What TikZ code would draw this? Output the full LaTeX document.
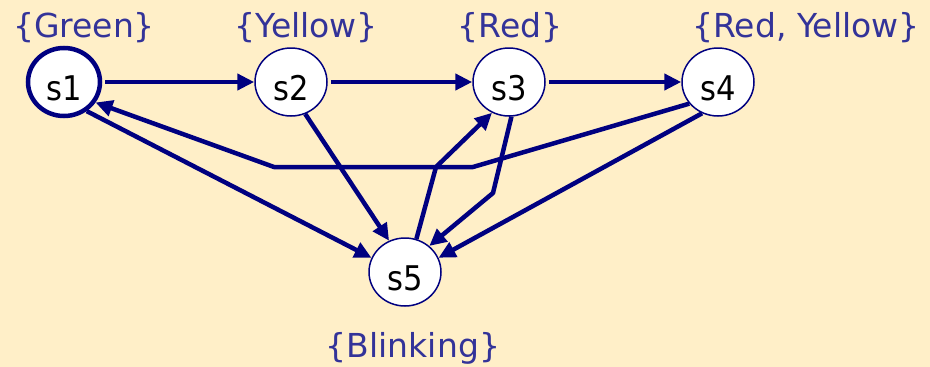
\documentclass[tikz,border=0pt]{standalone}
\usepackage{fontspec}
\setmainfont{DejaVu Sans}
\newfontfamily\statefont{DejaVu Sans}[FakeStretch=0.9]
\usetikzlibrary{arrows.meta,shapes.geometric}
\definecolor{bg}{RGB}{255,239,200}
\definecolor{edgeblue}{RGB}{0,0,128}
\definecolor{lblblue}{RGB}{51,51,153}
\begin{document}
\begin{tikzpicture}[x=1pt,y=-1pt,
  state/.style={ellipse, draw=edgeblue, line width=1.5pt, fill=white,
    minimum width=72pt, minimum height=68pt, inner sep=0pt,
    text height=36pt, text depth=0pt, font=\statefont\fontsize{34}{34}\selectfont},
  initstate/.style={state, line width=4.5pt},
  lbl/.style={text=lblblue, anchor=base, inner sep=0pt, font=\fontsize{33}{33}\selectfont},
  edge/.style={draw=edgeblue, line width=4.5pt, line join=round,
    -{Triangle[length=17pt,width=16pt]}}]
\fill[bg] (0,0) rectangle (930,367);
\useasboundingbox (0,0) rectangle (930,367);
% states
\node[initstate] (s1) at (64,82) {s1};
\node[state] (s2) at (291,82) {s2};
\node[state] (s3) at (509,82) {s3};
\node[state] (s4) at (718,82) {s4};
\node[state] (s5) at (405,272) {s5};
% labels
\node[lbl] (lg) at (84,37) {\{Green\}};
\node[lbl] (ly) at (306,37) {\{Yellow\}};
\node[lbl] (lr) at (510,37) {\{Red\}};
\node[lbl] (lry) at (806,37) {\{Red, Yellow\}};
\node[lbl] (lb) at (413,357) {\{Blinking\}};
% bend points
\coordinate (b1) at (473,167);
\coordinate (b2) at (274,167);
\coordinate (c1) at (493,193);
\coordinate (c2) at (436,167);
% edges
\draw[edge] ([xshift=3pt]s1.east) -- (s2.west);
\draw[edge] ([xshift=3pt]s2.east) -- (s3.west);
\draw[edge] ([xshift=3pt]s3.east) -- (s4.west);
\draw[edge] (s4.217) -- (b1) -- (b2) -- (s1.-33);
\draw[edge] (s1.-52.5) -- (s5.157);
\draw[edge] (s2.-66) -- (s5.117);
\draw[edge] (s3.-86) -- (c1) -- (s5.47);
\draw[edge] (s5.71) -- (c2) -- (s3.-119);
\draw[edge] (s4.-117) -- (s5.23);
\end{tikzpicture}
\end{document}
